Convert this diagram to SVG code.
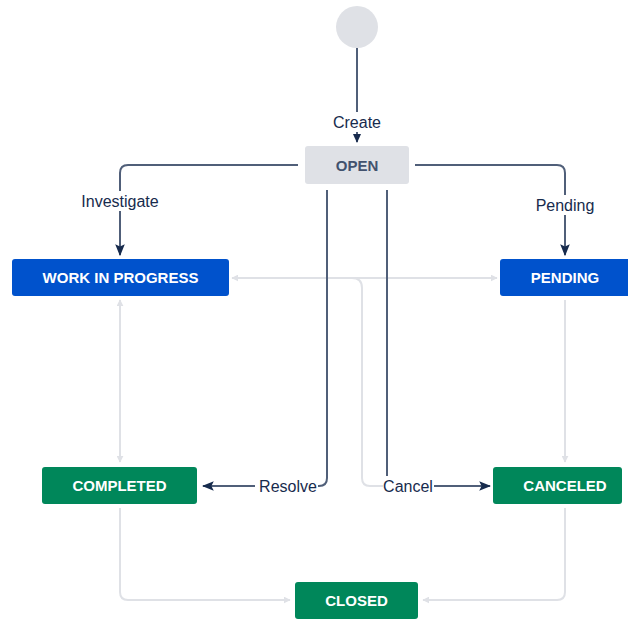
<svg xmlns="http://www.w3.org/2000/svg" width="628" height="620" viewBox="0 0 628 620">
<defs>
<marker id="ad" viewBox="0 0 10 10" refX="9" refY="5" markerWidth="9" markerHeight="9" markerUnits="userSpaceOnUse" orient="auto"><path d="M0,0.5 L10,5 L0,9.5 Z" fill="#172b4d"/></marker>
<marker id="ag" viewBox="0 0 10 10" refX="9" refY="5" markerWidth="7" markerHeight="7" markerUnits="userSpaceOnUse" orient="auto-start-reverse"><path d="M0,0 L10,5 L0,10 Z" fill="#dfe1e6"/></marker>
<marker id="adl" viewBox="0 0 10 10" refX="9" refY="5" markerWidth="12" markerHeight="12" markerUnits="userSpaceOnUse" orient="auto"><path d="M0,1 L10,5 L0,9 L2,5 Z" fill="#172b4d"/></marker>
</defs>
<style>
.n text{font-family:"Liberation Sans",Arial,sans-serif;font-weight:bold;font-size:15px;text-anchor:middle;dominant-baseline:central;fill:#fff}
.dk{fill:none;stroke:#505f79;stroke-width:2}
.lt{fill:none;stroke:#dfe1e6;stroke-width:2}
.lb{font-family:"Liberation Sans",Arial,sans-serif;font-size:16px;fill:#172b4d;text-anchor:middle;dominant-baseline:central}
.bg{fill:#fff}
</style>
<rect width="628" height="620" fill="#fff"/>
<g id="connectors">
<path class="lt" d="M232,278 H497" marker-start="url(#ag)" marker-end="url(#ag)"/>
<path class="lt" d="M352,278 Q362,278 362,288 V478 Q362,486 370,486 H384"/>
<path class="lt" d="M120,300 V462" marker-start="url(#ag)" marker-end="url(#ag)"/>
<path class="lt" d="M565,300 V462" marker-end="url(#ag)"/>
<path class="lt" d="M120,508 V592 Q120,600 128,600 H290" marker-end="url(#ag)"/>
<path class="lt" d="M565,508 V592 Q565,600 557,600 H423" marker-end="url(#ag)"/>
<path class="dk" d="M357,48 V142" marker-end="url(#ad)"/>
<path class="dk" d="M298,165 H128 Q120,165 120,173 V255" marker-end="url(#adl)"/>
<path class="dk" d="M415,165 H557 Q565,165 565,173 V255" marker-end="url(#adl)"/>
<path class="dk" d="M327,190 V478 Q327,486 319,486 H203" marker-end="url(#adl)"/>
<path class="dk" d="M387,190 V478 Q387,486 395,486 H490" marker-end="url(#adl)"/>
<rect class="bg" x="328" y="112" width="58" height="20"/>
<text class="lb" x="357" y="122">Create</text>
<rect class="bg" x="76" y="191" width="88" height="20"/>
<text class="lb" x="120" y="201">Investigate</text>
<rect class="bg" x="533" y="195" width="64" height="20"/>
<text class="lb" x="565" y="205">Pending</text>
<rect class="bg" x="255" y="476" width="63" height="20"/>
<text class="lb" x="288" y="486">Resolve</text>
<rect class="bg" x="383" y="476" width="51" height="20"/>
<text class="lb" x="408" y="486">Cancel</text>
</g>
<g id="start"><circle cx="357" cy="27" r="21" fill="#dfe1e6"/></g>
<g id="open" class="n"><rect x="305" y="146" width="104" height="38" rx="3" fill="#dfe1e6"/><text x="357" y="165" style="fill:#42526e">OPEN</text></g>
<g id="wip" class="n"><rect x="12" y="259" width="217" height="37" rx="3" fill="#0052cc"/><text x="120.5" y="277.5">WORK IN PROGRESS</text></g>
<g id="pending" class="n"><rect x="500" y="259" width="132" height="37" rx="3" fill="#0052cc"/><text x="565" y="277.5">PENDING</text></g>
<g id="completed" class="n"><rect x="42" y="467" width="155" height="37" rx="3" fill="#00875a"/><text x="119.5" y="485.5">COMPLETED</text></g>
<g id="canceled" class="n"><rect x="493" y="467" width="129" height="37" rx="3" fill="#00875a"/><text x="565" y="485.5">CANCELED</text></g>
<g id="closed" class="n"><rect x="295" y="582" width="123" height="37" rx="3" fill="#00875a"/><text x="356.5" y="600.5">CLOSED</text></g>
</svg>
